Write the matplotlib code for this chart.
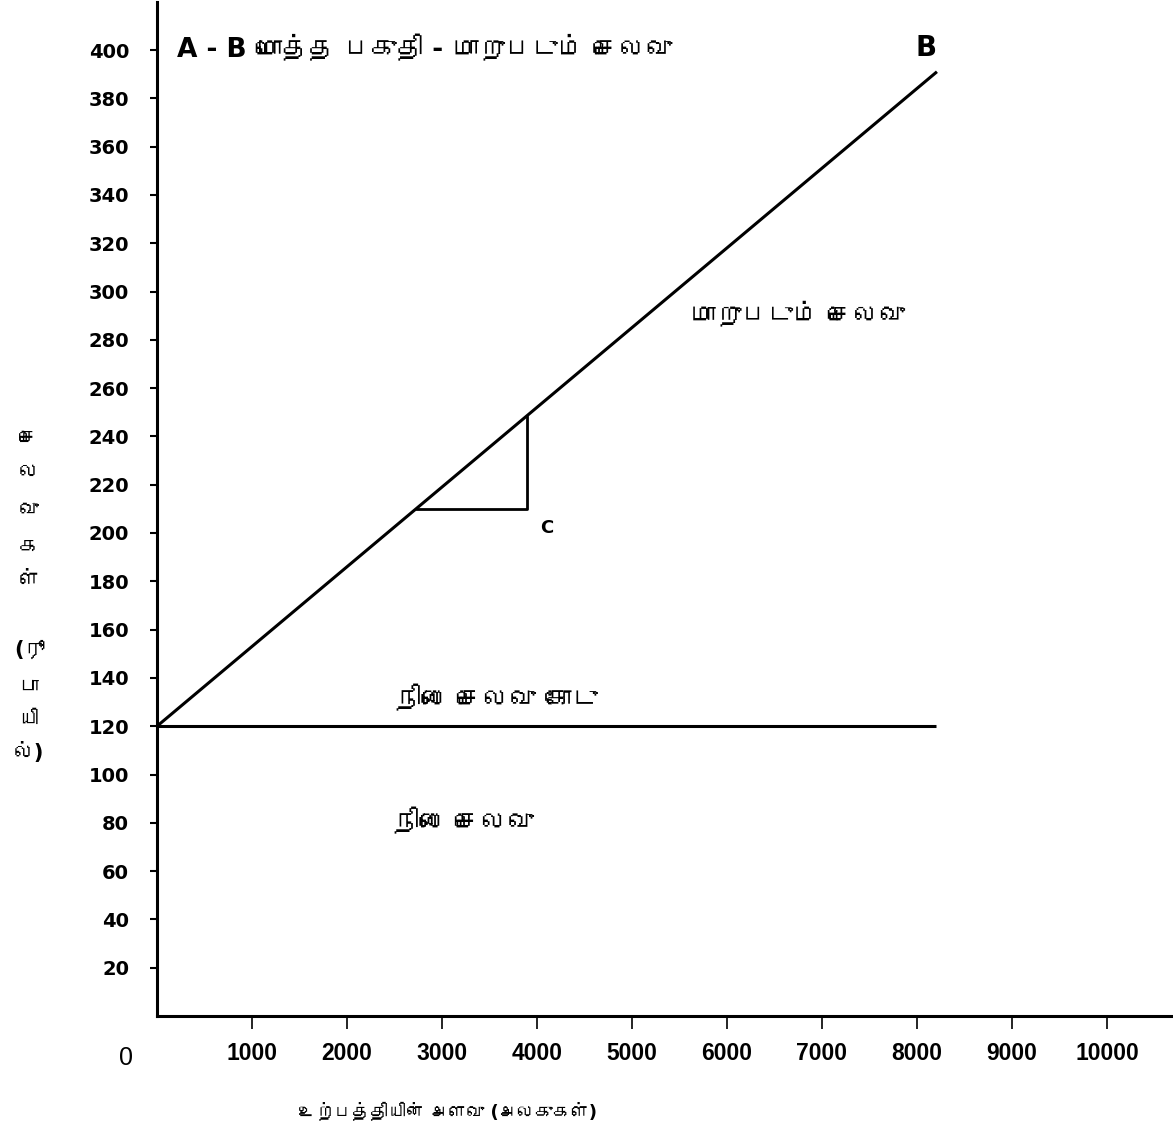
import matplotlib
matplotlib.use("Agg")
import matplotlib.pyplot as plt
from matplotlib import font_manager, ft2font

# ---------------- data ----------------
x_ticks = [1000, 2000, 3000, 4000, 5000, 6000, 7000, 8000, 9000, 10000]
y_ticks = [20, 40, 60, 80, 100, 120, 140, 160, 180, 200, 220, 240, 260, 280, 300,
           320, 340, 360, 380, 400]
total_cost_x = [0, 8210]
total_cost_y = [120, 391]
fixed_cost_x = [0, 8200]
fixed_cost_y = [120, 120]
triangle_x = [2740, 3890, 3890]
triangle_y = [210, 210, 248]

title_text = "A - B மொத்த பகுதி - மாறுபடும் செலவு"
variable_label = "மாறுபடும் செலவு"
fixed_line_label = "நிலை செலவு கோடு"
fixed_label = "நிலை செலவு"
x_label = "உற்பத்தியின் அளவு (அலகுகள்)"
y_label_parts = ["செ", "ல", "வு", "க", "ள்", "(ரூ", "பா", "யி", "ல்)"]

# ---------------- fonts ----------------
tamil_fams = []
for f in font_manager.fontManager.ttflist:
    try:
        cm = ft2font.FT2Font(f.fname).get_charmap()
        if 0x0B95 in cm and f.name not in tamil_fams:
            tamil_fams.append(f.name)
    except Exception:
        pass
tamil_family = ["DejaVu Sans"] + tamil_fams
plt.rcParams["font.family"] = tamil_family

narrow_family = ["Liberation Sans Narrow", "Liberation Sans", "DejaVu Sans"]

# ---------------- figure ----------------
W, H = 1173, 1137
fig = plt.figure(figsize=(W / 100, H / 100), dpi=100)
ax = fig.add_axes([157 / W, (H - 1016) / H, (W - 157) / W, 1014.3 / H])
ax.set_xlim(0, 10695)
ax.set_ylim(0, 420)

for s in ["top", "right"]:
    ax.spines[s].set_visible(False)
for s in ["left", "bottom"]:
    ax.spines[s].set_linewidth(2.2)
    ax.spines[s].set_color("black")

ax.plot(total_cost_x, total_cost_y, color="black", lw=2.2, solid_capstyle="butt")
ax.plot(fixed_cost_x, fixed_cost_y, color="black", lw=2.2, solid_capstyle="butt")
ax.plot(triangle_x, triangle_y, color="black", lw=2.0)

ax.set_xticks(x_ticks)
ax.set_xticklabels([str(v) for v in x_ticks], family=narrow_family,
                   fontweight="bold", fontsize=16.5)
ax.set_yticks(y_ticks)
ax.set_yticklabels([str(v) for v in y_ticks], family=["DejaVu Sans"],
                   fontweight="bold", fontsize=14)
ax.tick_params(axis="x", direction="out", length=9, width=1.2, pad=10)
ax.tick_params(axis="y", direction="out", length=5, width=1.5, pad=15)

# texts inside the plot
ax.text(210, 400, title_text, fontsize=19, fontweight="bold", ha="left", va="center")
ax.text(8095, 401, "B", fontsize=20, fontweight="bold", ha="center", va="center",
        family=["DejaVu Sans"])
ax.text(5610, 290, variable_label, fontsize=18.5, fontweight="bold", ha="left", va="center")
ax.text(4105, 202, "C", fontsize=13, fontweight="bold", ha="center", va="center",
        family=["DejaVu Sans"])
ax.text(2505, 131, fixed_line_label, fontsize=19, fontweight="bold", ha="left", va="center")
ax.text(2484, 80, fixed_label, fontsize=19, fontweight="bold", ha="left", va="center")

# figure-level texts
fig.text(126 / W, 1 - 1058 / H, "0", fontsize=18, ha="center", va="center",
         family=["Liberation Sans", "DejaVu Sans"])
fig.text(448 / W, 1 - 1113 / H, x_label, fontsize=13, fontweight="bold",
         ha="center", va="center")
y_positions = [438, 472, 510, 547, 580, 650, 687, 720, 753]
for txt, py in zip(y_label_parts, y_positions):
    fig.text(29 / W, 1 - py / H, txt, fontsize=15, fontweight="bold",
             ha="center", va="center")

fig.savefig("out.png", dpi=100, facecolor="white")
